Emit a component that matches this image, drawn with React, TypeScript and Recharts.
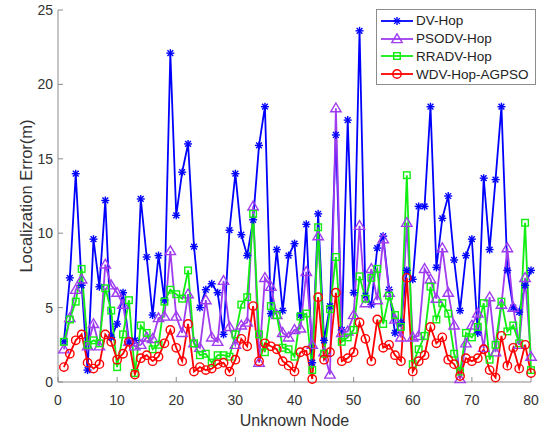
import React from "react";
import { Legend, Line, LineChart, XAxis, YAxis } from "recharts";

// unknown node index on the x axis
const nodes = [
  1, 2, 3, 4, 5, 6, 7, 8, 9, 10, 11, 12, 13, 14, 15, 16, 17, 18, 19, 20,
  21, 22, 23, 24, 25, 26, 27, 28, 29, 30, 31, 32, 33, 34, 35, 36, 37, 38, 39, 40,
  41, 42, 43, 44, 45, 46, 47, 48, 49, 50, 51, 52, 53, 54, 55, 56, 57, 58, 59, 60,
  61, 62, 63, 64, 65, 66, 67, 68, 69, 70, 71, 72, 73, 74, 75, 76, 77, 78, 79, 80,
];

// localization error (m) per node
const dvHop = [
  2.7, 7.0, 14.0, 6.5, 0.8, 9.6, 6.4, 12.2, 3.0, 3.9, 6.0, 2.7, 2.8, 12.3, 8.4, 4.5, 8.5, 5.5, 22.1, 11.2,
  14.1, 16.0, 9.1, 5.0, 6.2, 6.6, 6.0, 3.2, 10.2, 14.0, 9.9, 8.5, 10.9, 15.9, 18.5, 4.6, 8.9, 4.8, 8.5, 9.3,
  4.5, 10.6, 1.3, 11.3, 2.8, 5.1, 16.6, 3.5, 17.6, 6.0, 23.6, 5.8, 5.2, 9.0, 9.8, 6.2, 3.3, 4.0, 7.5, 6.9,
  11.8, 11.8, 18.5, 7.7, 11.0, 12.5, 8.2, 4.8, 8.5, 9.6, 3.3, 13.7, 8.9, 13.6, 18.5, 7.5, 5.0, 4.7, 6.5, 7.5,
];

const psoDvHop = [
  2.2, 4.3, 6.2, 6.9, 2.4, 3.9, 2.4, 7.9, 6.5, 6.0, 5.2, 2.7, 2.4, 2.5, 3.0, 2.9, 4.3, 4.4, 8.8, 4.4,
  3.3, 5.9, 2.6, 2.3, 5.5, 3.0, 2.7, 6.8, 3.7, 2.5, 3.8, 4.0, 11.8, 1.3, 7.0, 6.4, 4.5, 3.3, 3.0, 3.5,
  3.6, 7.4, 2.5, 9.8, 2.0, 0.5, 18.4, 3.3, 3.4, 4.5, 10.5, 5.3, 7.6, 5.5, 9.6, 6.0, 4.2, 3.0, 10.7, 3.0,
  3.1, 7.6, 6.9, 5.6, 9.0, 6.0, 3.8, 0.2, 2.6, 3.8, 4.6, 2.3, 5.7, 2.0, 5.2, 9.0, 5.0, 2.5, 7.0, 1.7,
];

const rraDvHop = [
  2.7, 4.2, 5.4, 7.6, 2.5, 2.8, 2.6, 6.3, 4.8, 1.0, 3.2, 5.5, 0.6, 3.8, 3.3, 2.2, 2.5, 5.4, 6.2, 5.9,
  5.6, 7.5, 2.6, 1.8, 1.9, 1.3, 1.8, 1.8, 1.7, 3.2, 5.2, 5.7, 11.3, 3.2, 2.0, 5.1, 4.5, 2.3, 2.2, 1.7,
  4.4, 4.6, 0.8, 10.4, 1.9, 4.9, 8.4, 2.7, 3.0, 3.5, 7.1, 5.6, 7.0, 7.6, 3.9, 5.8, 4.5, 3.7, 13.9, 1.2,
  2.2, 3.1, 6.4, 4.2, 5.3, 4.6, 1.9, 0.7, 3.3, 3.0, 3.7, 5.3, 1.5, 2.5, 5.4, 3.4, 3.8, 2.6, 10.7, 0.8,
];

const wdvHopAgpso = [
  1.0, 1.9, 2.8, 3.2, 1.3, 0.9, 1.2, 3.2, 2.7, 1.5, 1.9, 2.7, 0.5, 1.6, 1.8, 1.4, 1.7, 2.6, 3.5, 2.3,
  1.4, 3.9, 0.7, 1.0, 0.8, 0.9, 1.2, 1.3, 0.7, 1.5, 2.9, 2.4, 5.1, 1.4, 2.6, 2.4, 2.2, 1.4, 1.1, 0.7,
  2.0, 2.1, 0.2, 5.7, 1.5, 2.0, 6.0, 1.4, 1.6, 2.0, 4.0, 2.9, 1.4, 4.2, 2.3, 2.5, 1.8, 1.4, 7.0, 0.7,
  1.4, 1.8, 3.7, 2.6, 3.0, 1.5, 1.2, 0.4, 1.6, 1.4, 1.6, 2.2, 0.8, 0.3, 3.1, 1.1, 2.3, 0.9, 2.5, 0.6,
];

const xTicks = [0, 10, 20, 30, 40, 50, 60, 70, 80];
const yTicks = [0, 5, 10, 15, 20, 25];

const FONT = "'Liberation Sans', Arial, Helvetica, sans-serif";
const AXIS_GRAY = "#8c8c8c";
const TEXT_GRAY = "#333333";

type MarkerKind = "star" | "triangle" | "square" | "circle";

const series: { key: string; name: string; color: string; marker: MarkerKind }[] = [
  { key: "dv", name: "DV-Hop", color: "#0000ff", marker: "star" },
  { key: "pso", name: "PSODV-Hop", color: "#a03cf0", marker: "triangle" },
  { key: "rra", name: "RRADV-Hop", color: "#11ee11", marker: "square" },
  { key: "wdv", name: "WDV-Hop-AGPSO", color: "#ff0000", marker: "circle" },
];

const rows = nodes.map((node, i) => ({
  node,
  dv: dvHop[i],
  pso: psoDvHop[i],
  rra: rraDvHop[i],
  wdv: wdvHopAgpso[i],
}));

function Marker({ kind, cx, cy, color }: { kind: MarkerKind; cx: number; cy: number; color: string }) {
  const sw = 1.4;
  if (kind === "star") {
    const r = 4;
    const d = r * 0.72;
    return (
      <g stroke={color} strokeWidth={sw}>
        <line x1={cx - r} y1={cy} x2={cx + r} y2={cy} />
        <line x1={cx} y1={cy - r} x2={cx} y2={cy + r} />
        <line x1={cx - d} y1={cy - d} x2={cx + d} y2={cy + d} />
        <line x1={cx - d} y1={cy + d} x2={cx + d} y2={cy - d} />
      </g>
    );
  }
  if (kind === "triangle") {
    const w = 5.2;
    return (
      <polygon
        points={`${cx},${cy - 5.2} ${cx - w},${cy + 3.6} ${cx + w},${cy + 3.6}`}
        fill="none"
        stroke={color}
        strokeWidth={sw}
      />
    );
  }
  if (kind === "square") {
    const h = 3.3;
    return <rect x={cx - h} y={cy - h} width={h * 2} height={h * 2} fill="none" stroke={color} strokeWidth={sw} />;
  }
  return <circle cx={cx} cy={cy} r={4.2} fill="none" stroke={color} strokeWidth={sw} />;
}

function LegendBox() {
  return (
    <div
      style={{
        background: "#ffffff",
        border: `1px solid ${AXIS_GRAY}`,
        padding: "2px 6px 1px 3px",
        fontFamily: FONT,
        fontSize: 13.5,
        color: "#222222",
      }}
    >
      {series.map((s) => (
        <div key={s.key} style={{ display: "flex", alignItems: "center", height: 17.8, whiteSpace: "nowrap" }}>
          <svg width={34} height={14} style={{ marginRight: 2 }}>
            <line x1={1} y1={7} x2={33} y2={7} stroke={s.color} strokeWidth={1.8} />
            <Marker kind={s.marker} cx={17} cy={7} color={s.color} />
          </svg>
          <span>{s.name}</span>
        </div>
      ))}
    </div>
  );
}

export default function App() {
  return (
    <div style={{ position: "absolute", left: 0, top: 0, background: "#ffffff" }}>
      <LineChart width={547} height={434} data={rows} margin={{ top: 10, right: 16, bottom: 22, left: 8 }}>
        <XAxis
          dataKey="node"
          type="number"
          domain={[0, 80]}
          ticks={xTicks}
          height={30}
          stroke={AXIS_GRAY}
          tickSize={-5}
          tickMargin={18}
          tick={{ fill: TEXT_GRAY, fontSize: 14, fontFamily: FONT }}
          label={{
            content: () => (
              <text x={294.5} y={426} textAnchor="middle" fill={TEXT_GRAY} fontSize={16} fontFamily={FONT}>
                Unknown Node
              </text>
            ),
          }}
        />
        <YAxis
          type="number"
          domain={[0, 25]}
          ticks={yTicks}
          width={50}
          stroke={AXIS_GRAY}
          tickSize={-5}
          tickMargin={10}
          tick={{ fill: TEXT_GRAY, fontSize: 14, fontFamily: FONT }}
          label={{
            content: () => (
              <text
                x={26}
                y={196}
                transform="rotate(-90 26 196)"
                textAnchor="middle"
                dominantBaseline="central"
                fill={TEXT_GRAY}
                fontSize={16.5}
                fontFamily={FONT}
              >
                Localization Error(m)
              </text>
            ),
          }}
        />
        {series.map((s) => (
          <Line
            key={s.key}
            type="linear"
            dataKey={s.key}
            name={s.name}
            stroke={s.color}
            strokeWidth={1.8}
            isAnimationActive={false}
            activeDot={false}
            dot={(p: any) => (
              <Marker key={`${s.key}-${p.index}`} kind={s.marker} cx={p.cx} cy={p.cy} color={s.color} />
            )}
          />
        ))}
        <Legend
          layout="vertical"
          align="center"
          verticalAlign="middle"
          content={() => <LegendBox />}
          wrapperStyle={{ position: "absolute", top: 9, left: 376, width: "auto", height: "auto" }}
        />
      </LineChart>
    </div>
  );
}
